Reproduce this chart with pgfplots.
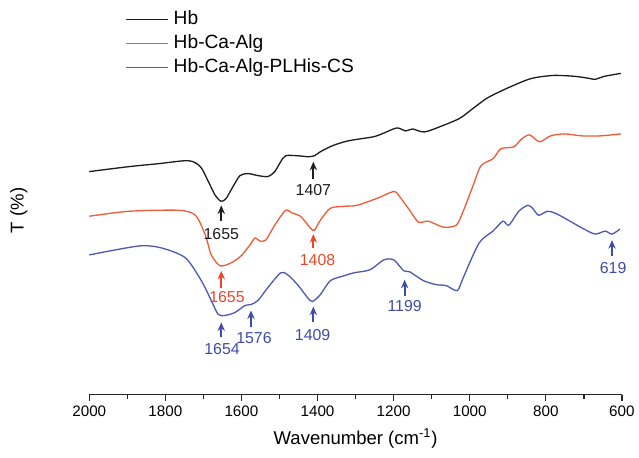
\documentclass[border=0pt]{standalone}
\usepackage{fontspec}
\setmainfont{Liberation Sans}
\usepackage{pgfplots}
\usepackage{pgfplotstable}
\pgfplotsset{compat=1.18}
\usetikzlibrary{arrows.meta}

\definecolor{cHb}{HTML}{1E1E1E}
\definecolor{cAlg}{HTML}{EE5D3B}
\definecolor{cCS}{HTML}{4E5AB2}
\definecolor{tAlg}{HTML}{E8472A}
\definecolor{tCS}{HTML}{3D4CA8}

% FTIR traces, wavenumber vs. (offset) transmittance, arbitrary units
\pgfplotstableread{
wn     t
2000   227
1895.7 232
1817.5 235
1739.3 238
1708.0 232
1687.1 217
1668.9 203
1653.3 197
1640.2 200
1622.0 212
1603.7 223
1582.9 225
1556.8 223
1530.7 222
1512.5 227
1496.8 237
1483.8 243
1452.5 243
1425.0 242
1408.2 243
1392.5 247
1361.3 253
1319.5 258
1254.4 262
1230.9 265
1191.8 271
1168.3 268
1150.1 270
1118.8 267
1066.7 274
1024.9 281
993.7  290
954.6  301
907.6  310
852.9  319
824.2  322
777.3  324
722.5  323
686.0  321
670.4  320
646.9  323
602.6  326
}\hb

\pgfplotstableread{
wn     t
2000   182
1895.7 187
1765.4 188
1721.0 183
1695.0 163
1679.3 143
1655.9 132
1627.2 135
1601.1 142
1577.6 153
1564.6 160
1551.6 157
1535.9 158
1512.5 173
1483.8 188
1465.5 185
1444.7 182
1418.6 170
1408.2 168
1392.5 178
1366.5 190
1330.0 192
1296.1 193
1243.9 200
1199.6 207
1186.6 203
1157.9 188
1134.4 176
1108.4 177
1069.3 171
1035.4 173
1017.1 187
991.1  213
970.2  233
938.9  240
918.1  250
884.2  252
863.3  260
842.5  264
816.4  257
787.7  263
751.2  265
704.3  263
657.3  263
602.6  265
}\alg

\pgfplotstableread{
wn     t
2000   143
1869.6 152
1809.7 150
1747.1 140
1705.4 117
1679.3 97
1661.1 83
1642.8 82
1616.8 85
1590.7 92
1575.0 93
1556.8 97
1530.7 110
1496.8 125
1478.6 123
1452.5 113
1426.4 100
1413.4 96
1392.5 103
1366.5 117
1330.0 122
1303.9 125
1262.2 128
1225.7 138
1199.6 138
1173.5 127
1157.9 126
1121.4 117
1087.5 113
1061.4 112
1032.8 107
1017.1 120
975.4  155
938.9  167
912.8  177
897.2  173
871.1  187
847.7  193
834.6  190
819.0  183
795.5  187
774.7  185
740.8  178
704.3  170
670.4  164
644.3  167
626.1  164
605.2  169
}\cs

\begin{document}
\begin{tikzpicture}
\begin{axis}[
  scale only axis,
  width=402.75pt, height=294.75pt,
  x dir=reverse,
  xmin=600, xmax=2000,
  ymin=2, ymax=395,
  axis x line=bottom,
  axis y line=left,
  x axis line style={-, line width=1pt, color=black!85},
  y axis line style={draw=none},
  ytick=\empty,
  xtick={600,800,...,2000},
  minor x tick num=1,
  tick align=outside,
  major tick length=5pt,
  minor tick length=3pt,
  every tick/.style={line width=1pt, color=black!85},
  /pgf/number format/assume math mode=true,
  /pgf/number format/set thousands separator={},
  tick label style={font=\fontsize{11.5}{13}\selectfont},
  xlabel={Wavenumber (cm\textsuperscript{-1})},
  xlabel style={at={(axis description cs:0.5,-0.112)}, anchor=center,
    font=\fontsize{14}{16}\selectfont},
  ylabel={T (\%)},
  ylabel style={at={(axis description cs:-0.132,0.473)}, anchor=center,
    font=\fontsize{14}{16}\selectfont},
  legend style={at={(axis description cs:0.068,0.99)}, anchor=north west,
    draw=none, fill=none, row sep=2.6pt, inner sep=0pt,
    font=\fontsize{14.5}{16}\selectfont,
    nodes={text height=10.6pt, text depth=3pt, inner ysep=1pt, inner xsep=4pt}},
  legend cell align=left,
  legend image code/.code={\draw[#1] (0cm,0cm) -- (1.1cm,0cm);},
  clip=false,
]
\addplot[cHb, line width=1pt, smooth, tension=0.45] table[x=wn, y=t] {\hb};
\addlegendentry{Hb}
\addplot[cAlg, line width=1pt, smooth, tension=0.45] table[x=wn, y=t] {\alg};
\addlegendentry{Hb-Ca-Alg}
\addplot[cCS, line width=1pt, smooth, tension=0.45] table[x=wn, y=t] {\cs};
\addlegendentry{Hb-Ca-Alg-PLHis-CS}

\coordinate (o) at (rel axis cs:0,0);

% peak markers
\tikzset{pk/.style={line width=1.4pt, -{Stealth[length=6.5pt, width=5.5pt]}},
  pl/.style={font=\fontsize{12}{14}\selectfont, inner sep=0pt}}
\draw[pk, cHb] (axis cs:1653,177) -- (axis cs:1653,193);
\node[pl, text=cHb] at (axis cs:1653,164) {1655};
\draw[pk, cHb] (axis cs:1411,220) -- (axis cs:1411,237);
\node[pl, text=cHb] at (axis cs:1411,208) {1407};

\draw[pk, tAlg] (axis cs:1653,110) -- (axis cs:1653,127);
\node[pl, text=tAlg] at (axis cs:1638,101) {1655};
\draw[pk, tAlg] (axis cs:1411,150) -- (axis cs:1411,164);
\node[pl, text=tAlg] at (axis cs:1400,138) {1408};

\draw[pk, tCS] (axis cs:1653,60) -- (axis cs:1653,75);
\node[pl, text=tCS] at (axis cs:1651,48) {1654};
\draw[pk, tCS] (axis cs:1575,70) -- (axis cs:1575,87);
\node[pl, text=tCS] at (axis cs:1567,59) {1576};
\draw[pk, tCS] (axis cs:1411,75) -- (axis cs:1411,91);
\node[pl, text=tCS] at (axis cs:1413,62) {1409};
\draw[pk, tCS] (axis cs:1171,102) -- (axis cs:1171,118);
\node[pl, text=tCS] at (axis cs:1171,91) {1199};
\draw[pk, tCS] (axis cs:626,142) -- (axis cs:626,158);
\node[pl, text=tCS] at (axis cs:623,130) {619};
\end{axis}
\path (o) ++(-67.5pt,-47.25pt) rectangle ++(479.25pt,345.75pt);
\end{tikzpicture}
\end{document}
